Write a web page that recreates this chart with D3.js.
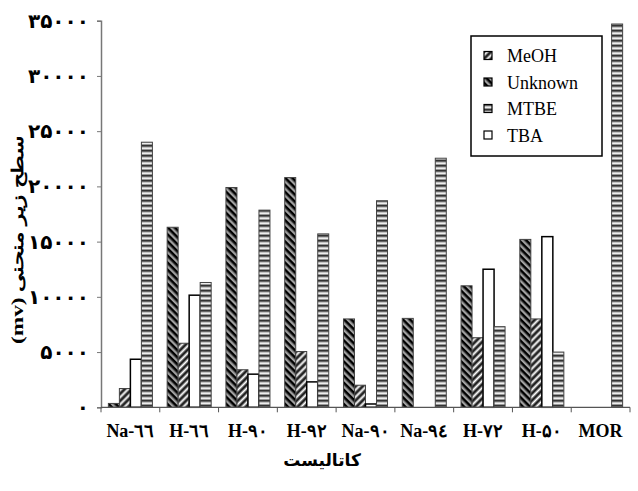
<!DOCTYPE html>
<html>
<head>
<meta charset="utf-8">
<script src="https://cdn.jsdelivr.net/npm/d3@7"></script>
<style>
  body { margin: 0; background: #fff; }
  svg { display: block; }
</style>
</head>
<body>
<div class="container"></div>
<script>
(function(d3) {
  "use strict";

  // catalysts along the x axis
  var categories = ["Na-٦٦", "H-٦٦", "H-٩٠", "H-٩٢", "Na-٩٠", "Na-٩٤", "H-٧٢", "H-۵٠", "MOR"];

  // peak areas (mv)
  var unknown = [350, 16300, 19900, 20800, 8000, 8050, 11000, 15200, 0];
  var meoh    = [1700, 5800, 3400, 5050, 2000, 0, 6300, 8000, 0];
  var tba     = [4350, 10150, 3000, 2300, 300, 0, 12500, 15450, 0];
  var mtbe    = [24000, 11300, 17850, 15700, 18700, 22550, 7300, 5000, 34700];

  var barOrder = ["Unknown", "MeOH", "TBA", "MTBE"];
  var legendOrder = ["MeOH", "Unknown", "MTBE", "TBA"];

  var yTicks = [0, 5000, 10000, 15000, 20000, 25000, 30000, 35000];
  var yTickLabels = ["٠", "۵٠٠٠", "١٠٠٠٠", "١۵٠٠٠", "٢٠٠٠٠", "٢۵٠٠٠", "٣٠٠٠٠", "٣۵٠٠٠"];

  var seriesValues = {
    "Unknown": unknown,
    "MeOH": meoh,
    "TBA": tba,
    "MTBE": mtbe
  };

  var fills = {
    "Unknown": "url(#pat-unknown)",
    "MeOH": "url(#pat-meoh)",
    "TBA": "#fff",
    "MTBE": "url(#pat-mtbe)"
  };

  var serif = "'Times New Roman', 'Liberation Serif', 'DejaVu Serif', serif";
  var arabic = "'DejaVu Sans', sans-serif";

  var width = 638, height = 491;
  var left = 101, right = 630, top = 20.7, bottom = 407.3;

  var svg = d3.select(".container").append("svg")
      .attr("width", width)
      .attr("height", height);

  var defs = svg.append("defs");

  // dark bars with light "\" streaks
  var pu = defs.append("pattern")
      .attr("id", "pat-unknown")
      .attr("patternUnits", "userSpaceOnUse")
      .attr("width", 6).attr("height", 5)
      .attr("patternTransform", "rotate(45)");
  pu.append("rect").attr("width", 6).attr("height", 5).attr("fill", "#000");
  pu.append("rect").attr("y", 1.5).attr("width", 6).attr("height", 1).attr("fill", "#888");
  pu.append("rect").attr("y", 2.5).attr("width", 6).attr("height", 1.2).attr("fill", "#eee");

  // light bars with dark "/" streaks
  var pm = defs.append("pattern")
      .attr("id", "pat-meoh")
      .attr("patternUnits", "userSpaceOnUse")
      .attr("width", 6).attr("height", 5)
      .attr("patternTransform", "rotate(-45)");
  pm.append("rect").attr("width", 6).attr("height", 5).attr("fill", "#fff");
  pm.append("rect").attr("y", 0).attr("width", 6).attr("height", 1).attr("fill", "#888");
  pm.append("rect").attr("y", 1).attr("width", 6).attr("height", 2).attr("fill", "#222");
  pm.append("rect").attr("y", 3).attr("width", 6).attr("height", 0.8).attr("fill", "#888");

  // horizontal gray stripes
  var pt = defs.append("pattern")
      .attr("id", "pat-mtbe")
      .attr("patternUnits", "userSpaceOnUse")
      .attr("width", 6).attr("height", 5);
  pt.append("rect").attr("width", 6).attr("height", 5).attr("fill", "#999");
  pt.append("rect").attr("y", 0).attr("width", 6).attr("height", 1.5).attr("fill", "#333");
  pt.append("rect").attr("y", 2.5).attr("width", 6).attr("height", 1.5).attr("fill", "#eee");

  var x0 = d3.scaleBand()
      .domain(categories)
      .range([left, right])
      .padding(0);

  var x1 = d3.scaleBand()
      .domain(barOrder)
      .range([0, x0.bandwidth()])
      .paddingInner(0)
      .paddingOuter(0.67);

  var y = d3.scaleLinear()
      .domain([0, 35000])
      .range([bottom, top]);

  // y axis
  var yAxis = svg.append("g")
      .attr("transform", svgTranslateString(left, 0))
      .call(d3.axisLeft(y)
        .tickValues(yTicks)
        .tickSize(4)
        .tickPadding(8)
        .tickFormat(function(d, i) { return yTickLabels[i]; }));
  yAxis.select(".domain").attr("stroke", "#777").attr("stroke-width", 1.5);
  yAxis.selectAll(".tick line").attr("stroke", "#777");
  yAxis.selectAll(".tick text")
      .style("font-family", arabic)
      .style("font-weight", "bold")
      .style("font-size", "20px")
      .attr("fill", "#000");

  // bars
  var groups = svg.append("g")
      .attr("class", "groups")
    .selectAll(".group")
      .data(categories)
    .enter().append("g")
      .attr("class", "group")
      .attr("transform", function(d) { return svgTranslateString(x0(d), 0); });

  groups.selectAll("rect")
      .data(function(d, i) {
        return barOrder.map(function(s) {
          return { series: s, value: seriesValues[s][i] };
        }).filter(function(b) { return b.value > 0; });
      })
    .enter().append("rect")
      .attr("x", function(d) { return x1(d.series); })
      .attr("width", x1.bandwidth())
      .attr("y", function(d) { return y(d.value); })
      .attr("height", function(d) { return y(0) - y(d.value); })
      .attr("fill", function(d) { return fills[d.series]; })
      .attr("stroke", function(d) { return d.series === "TBA" ? "#000" : "#444"; })
      .attr("stroke-width", function(d) { return d.series === "TBA" ? 1.5 : 1; });

  // x axis
  var xAxis = svg.append("g")
      .attr("transform", svgTranslateString(0, bottom));
  xAxis.append("line")
      .attr("x1", left).attr("x2", right)
      .attr("stroke", "#555").attr("stroke-width", 1.2);
  xAxis.selectAll(".xtick")
      .data(categories.concat([null]))
    .enter().append("line")
      .attr("x1", function(d) { return d === null ? right : x0(d); })
      .attr("x2", function(d) { return d === null ? right : x0(d); })
      .attr("y1", 0).attr("y2", 5)
      .attr("stroke", "#555");
  xAxis.selectAll(".xlabel")
      .data(categories)
    .enter().append("text")
      .attr("x", function(d) { return x0(d) + x0.bandwidth() / 2; })
      .attr("y", 30)
      .attr("text-anchor", "middle")
      .style("font-family", serif)
      .style("font-weight", "bold")
      .style("font-size", "18px")
      .text(function(d) { return d; });

  // axis titles
  svg.append("text")
      .attr("x", 322)
      .attr("y", 466)
      .attr("text-anchor", "middle")
      .style("font-family", arabic)
      .style("font-weight", "bold")
      .style("font-size", "17px")
      .text("کاتالیست");

  svg.append("text")
      .attr("transform", svgTranslateString(23, 240) + " rotate(-90)")
      .attr("text-anchor", "middle")
      .attr("direction", "rtl")
      .attr("textLength", 208)
      .attr("lengthAdjust", "spacingAndGlyphs")
      .style("font-family", serif)
      .style("font-weight", "bold")
      .style("font-size", "16px")
      .text("سطح زیر منحنی (mv)");

  // legend
  var legend = svg.append("g")
      .attr("transform", svgTranslateString(471, 36));
  legend.append("rect")
      .attr("width", 131).attr("height", 120)
      .attr("fill", "#fff")
      .attr("stroke", "#000").attr("stroke-width", 1.5);

  var item = legend.selectAll(".item")
      .data(legendOrder)
    .enter().append("g")
      .attr("class", "item")
      .attr("transform", function(d, i) { return svgTranslateString(13, 20 + i * 26.5); });
  item.append("rect")
      .attr("x", 0).attr("y", -4.5)
      .attr("width", 8).attr("height", 8)
      .attr("fill", function(d) { return fills[d]; })
      .attr("stroke", "#000").attr("stroke-width", 1.2);
  item.append("text")
      .attr("x", 23).attr("y", 6)
      .style("font-family", serif)
      .style("font-size", "18px")
      .text(function(d) { return d; });

  function svgTranslateString(x, y) {
    return "translate(" + x + "," + y + ")";
  }

}(d3));
</script>
</body>
</html>
